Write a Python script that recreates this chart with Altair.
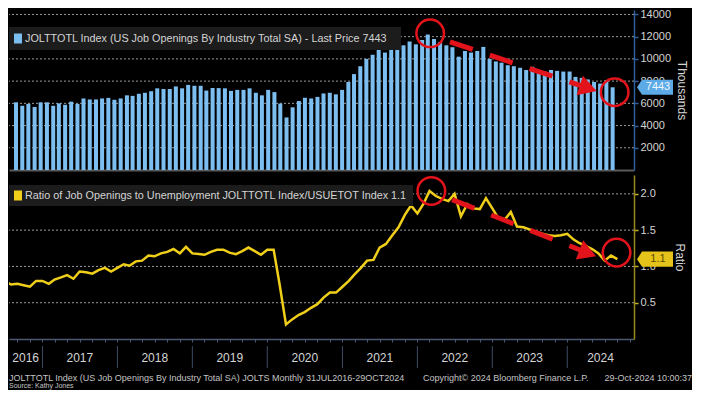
import altair as alt
import pandas as pd

# ---------------- data ----------------
bar_months = pd.date_range("2016-08-01", "2024-09-01", freq="MS").strftime("%Y-%m-%d").tolist()
ratio_months = pd.date_range("2016-07-01", "2024-09-01", freq="MS").strftime("%Y-%m-%d").tolist()

# JOLTS job openings, thousands (Aug 2016 .. Sep 2024)
openings = [
    6090, 5780, 5950, 5670, 6090,
    6090, 5780, 6000, 5870, 6150, 5950, 6440, 6350, 6350, 6440, 6490, 6320,
    6440, 6720, 6670, 6860, 6950, 7090, 7350, 7290, 7290, 7520, 7350, 7660,
    7580, 7580, 7150, 7380, 7370, 7350, 7120, 7210, 7210, 7350, 6950, 6720,
    7210, 7010, 5980, 4730, 5640, 6210, 6500, 6440, 6580, 6890, 6950, 6810,
    7210, 7920, 8630, 9340, 10000, 10370, 10910, 10570, 10940, 11370, 11220, 11560,
    11310, 11710, 12200, 11800, 11500, 11220, 11050, 10200, 10710, 10570, 10710, 11080,
    10000, 9770, 9660, 9430, 9340, 9200, 9000, 9290, 9000, 8860, 9000, 8920,
    8860, 8860, 8380, 8290, 8150, 7920, 7780, 8090, 7443,
]

# Ratio of job openings to unemployment (Jul 2016 .. Sep 2024)
ratios = [
    0.80, 0.75, 0.76, 0.74, 0.72, 0.80,
    0.80, 0.76, 0.82, 0.85, 0.88, 0.83, 0.93, 0.92, 0.90, 0.95, 0.98, 0.93,
    0.98, 1.03, 1.01, 1.07, 1.08, 1.15, 1.14, 1.18, 1.20, 1.24, 1.18, 1.27,
    1.18, 1.17, 1.16, 1.20, 1.23, 1.23, 1.19, 1.17, 1.21, 1.26, 1.21, 1.16,
    1.23, 1.23, 0.75, 0.20, 0.27, 0.33, 0.37, 0.43, 0.48, 0.57, 0.64, 0.64,
    0.72, 0.80, 0.89, 0.98, 1.08, 1.09, 1.26, 1.31, 1.43, 1.54, 1.71, 1.84,
    1.73, 1.87, 2.04, 1.97, 1.93, 1.90, 2.00, 1.69, 1.86, 1.80, 1.79, 1.94,
    1.80, 1.66, 1.64, 1.75, 1.55, 1.54, 1.51, 1.48, 1.45, 1.43, 1.42, 1.43,
    1.45, 1.37, 1.32, 1.28, 1.24, 1.18, 1.08, 1.15, 1.10,
]

top_ticks = [2000, 4000, 6000, 8000, 10000, 12000, 14000]
bot_ticks = [0.5, 1.0, 1.5, 2.0]

year_starts = ["2017-01-01", "2018-01-01", "2019-01-01", "2020-01-01",
               "2021-01-01", "2022-01-01", "2023-01-01", "2024-01-01"]
year_labels = ["2016", "2017", "2018", "2019", "2020", "2021", "2022", "2023", "2024"]
year_label_dates = ["2016-10-11", "2017-07-02", "2018-07-02", "2019-07-02", "2020-07-02",
                    "2021-07-02", "2022-07-02", "2023-07-02", "2024-06-11"]

top_legend = "JOLTTOTL Index (US Job Openings By Industry Total SA) - Last Price 7443"
bot_legend = "Ratio of Job Openings to Unemployment JOLTTOTL Index/USUETOT Index 1.1"
last_open = [7443]
last_open_label = ["7443"]
last_ratio = [1.1]
last_ratio_label = ["1.1"]

footer_left = "JOLTTOTL Index (US Job Openings By Industry Total SA) JOLTS  Monthly 31JUL2016-29OCT2024"
footer_mid = "Copyright\u00a9 2024 Bloomberg Finance L.P."
footer_right = "29-Oct-2024 10:00:37"
footer_src = "Source: Kathy Jones"

# red annotations (data coordinates)
top_circle_dates = ["2022-03-13", "2024-09-11"]
top_circle_vals = [12300, 7000]
bot_circle_dates = ["2022-03-10", "2024-08-28"]
bot_circle_vals = [2.04, 1.19]
top_arrow = {"d1": ["2022-06-19"], "v1": [11540], "d2": ["2024-05-03"], "v2": [7360]}
bot_arrow = {"d1": ["2022-06-19"], "v1": [1.92], "d2": ["2024-04-10"], "v2": [1.185]}

# ---------------- style ----------------
W, H1, H2, H3 = 625, 160, 164, 44
FONT = "Liberation Sans"
BLUE = "#7dbef0"
YELLOW = "#f0cf1a"
RED = "#e3131b"
GRID = "#9a9a9a"
TXT = "#d4d4d4"
BOX = "#1c1c1c"
TAG_PATH = "M-1,0 L-0.72,-0.42 L1,-0.42 L1,0.42 L-0.72,0.42 Z"


def ms(s):
    return int(pd.Timestamp(s).value // 10**6)


X_DOM = [ms("2016-07-22"), ms("2024-11-21")]
X_SCALE = alt.Scale(type="utc", domain=X_DOM)

one = pd.DataFrame({"k": [0]})
bars_df = pd.DataFrame({"date": bar_months, "openings": openings})
ratio_df = pd.DataFrame({"date": ratio_months, "ratio": ratios})

# shared axis definitions (identical in every layer of a panel)
TOP_X_AXIS = alt.Axis(title=None, labels=False, ticks=False, grid=False,
                      domainColor="#5a5a5a", domainWidth=2)
BOT_X_AXIS = alt.Axis(title=None, labels=False, ticks=True, grid=False,
                      tickCount={"interval": "month", "step": 2},
                      tickColor="#4a5a70", tickSize=3,
                      domainColor="#4a5a70", domainWidth=1.5)


def y_axis(values, fmt, title, dom_col, tick_col, title_pad):
    return alt.Axis(orient="right", values=values, format=fmt, title=title,
                    titleColor=TXT, titleFont=FONT, titleFontSize=12, titleFontWeight="normal",
                    titlePadding=title_pad, labelColor=TXT, labelFont=FONT, labelFontSize=11,
                    labelFlush=False, labelOverlap=False, labelPadding=2,
                    domainColor=dom_col, domainWidth=1.5,
                    tickColor=tick_col, tickSize=4, tickWidth=1.5, grid=False)


TOP_Y_AXIS = y_axis(top_ticks, "d", "Thousands", "#2f5f9e", "#2f5f9e", 4)
BOT_Y_AXIS = y_axis(bot_ticks, ".1f", "Ratio", "#9a8a1c", "#c8b020", 17)
TOP_Y_SCALE = alt.Scale(domain=[0, 14400], nice=False, zero=True)
BOT_Y_SCALE = alt.Scale(domain=[0, 2.26], nice=False, zero=True)


def tx(field, axis):
    return alt.X(field, type="temporal", scale=X_SCALE, axis=axis)


def ty(field, scale, axis):
    return alt.Y(field, type="quantitative", scale=scale, axis=axis)


def grid_layer(ticks, ys, ya):
    return alt.Chart(pd.DataFrame({"v": ticks})).mark_rule(
        color=GRID, strokeDash=[2, 2], strokeWidth=1, opacity=1).encode(y=ty("v", ys, ya))


def legend_layers(text, color, y0, y1, box_w):
    box = alt.Chart(one).mark_rect(fill=BOX).encode(
        x=alt.value(0), x2=alt.value(box_w), y=alt.value(y0), y2=alt.value(y1))
    sq = alt.Chart(one).mark_rect(fill=color).encode(
        x=alt.value(5), x2=alt.value(13), y=alt.value((y0 + y1) / 2 - 5), y2=alt.value((y0 + y1) / 2 + 5))
    t = alt.Chart(one).mark_text(align="left", baseline="middle", font=FONT, fontSize=10.8, color=TXT).encode(
        x=alt.value(16), y=alt.value((y0 + y1) / 2 + 0.5), text=alt.value(text))
    return [box, sq, t]


def annotations(xa, ys, ya, cdates, cvals, arrow, angle, tag_v, tag_t, tag_fill, tag_txt_col):
    circles = alt.Chart(pd.DataFrame({"date": cdates, "v": cvals})).mark_point(
        shape="circle", filled=False, size=760, strokeWidth=2.5, color=RED, opacity=1).encode(
        x=tx("date", xa), y=ty("v", ys, ya))
    aline = alt.Chart(pd.DataFrame(arrow)).mark_rule(
        color=RED, strokeWidth=5, strokeDash=[24, 18], strokeCap="butt").encode(
        x=tx("d1", xa), x2="d2:T", y=ty("v1", ys, ya), y2="v2:Q")
    ahead = alt.Chart(pd.DataFrame(arrow)).mark_point(
        shape="triangle-right", filled=True, size=420, color=RED, opacity=1, angle=angle).encode(
        x=tx("d2", xa), y=ty("v2", ys, ya))
    tag_df = pd.DataFrame({"v": tag_v, "t": tag_t})
    tag = alt.Chart(tag_df).mark_point(
        shape=TAG_PATH, filled=True, size=1296, fill=tag_fill, opacity=1, strokeWidth=0).encode(
        x=alt.value(W + 21), y=ty("v", ys, ya))
    tag_txt = alt.Chart(tag_df).mark_text(
        font=FONT, fontSize=11, color=tag_txt_col, baseline="middle").encode(
        x=alt.value(W + 24), y=ty("v", ys, ya), text="t:N")
    return [aline, ahead, circles, tag, tag_txt]


# ---------------- top panel ----------------
bars = alt.Chart(bars_df).mark_bar(color=BLUE, size=4).encode(
    x=tx("date", TOP_X_AXIS), y=ty("openings", TOP_Y_SCALE, TOP_Y_AXIS))
top = alt.layer(
    grid_layer(top_ticks, TOP_Y_SCALE, TOP_Y_AXIS), bars,
    *legend_layers(top_legend, BLUE, 17, 40, 392),
    *annotations(TOP_X_AXIS, TOP_Y_SCALE, TOP_Y_AXIS, top_circle_dates, top_circle_vals, top_arrow, 18,
                 last_open, last_open_label, "#5caae6", "#eef6ff"),
).properties(width=W, height=H1)

# ---------------- bottom panel ----------------
line = alt.Chart(ratio_df).mark_line(color=YELLOW, strokeWidth=2.5, clip=True).encode(
    x=tx("date", BOT_X_AXIS), y=ty("ratio", BOT_Y_SCALE, BOT_Y_AXIS))
bottom = alt.layer(
    grid_layer(bot_ticks, BOT_Y_SCALE, BOT_Y_AXIS), line,
    *legend_layers(bot_legend, YELLOW, 10, 31, 404),
    *annotations(BOT_X_AXIS, BOT_Y_SCALE, BOT_Y_AXIS, bot_circle_dates, bot_circle_vals, bot_arrow, 21,
                 last_ratio, last_ratio_label, "#e6c31a", "#5a4c00"),
).properties(width=W, height=H2)

# ---------------- year strip + footer ----------------
seps = alt.Chart(pd.DataFrame({"date": year_starts})).mark_rule(color="#3c4c62", strokeWidth=1).encode(
    x=tx("date", None), y=alt.value(0), y2=alt.value(22))
years = alt.Chart(pd.DataFrame({"date": year_label_dates, "label": year_labels})).mark_text(
    font=FONT, fontSize=12, color=TXT, baseline="middle").encode(
    x=tx("date", None), y=alt.value(12), text="label:N")
f1 = alt.Chart(one).mark_text(font=FONT, fontSize=9, color="#c4c4c4", align="left", baseline="middle").encode(
    x=alt.value(0), y=alt.value(32), text=alt.value(footer_left))
f2 = alt.Chart(one).mark_text(font=FONT, fontSize=9, color="#c4c4c4", align="left", baseline="middle").encode(
    x=alt.value(414), y=alt.value(32), text=alt.value(footer_mid))
f3 = alt.Chart(one).mark_text(font=FONT, fontSize=9, color="#c4c4c4", align="right", baseline="middle").encode(
    x=alt.value(683), y=alt.value(32), text=alt.value(footer_right))
f4 = alt.Chart(one).mark_text(font=FONT, fontSize=7, color="#c4c4c4", align="left", baseline="middle").encode(
    x=alt.value(0), y=alt.value(40), text=alt.value(footer_src))
strip = alt.layer(seps, years, f1, f2, f3, f4).properties(width=W, height=H3)

chart = alt.vconcat(top, bottom, strip, spacing=2).properties(
    background="#000000", padding={"left": 0, "top": 0, "right": 0, "bottom": 0}
).configure_view(stroke=None)

chart.save("out.html", embed_options={"renderer": "svg", "actions": False})
